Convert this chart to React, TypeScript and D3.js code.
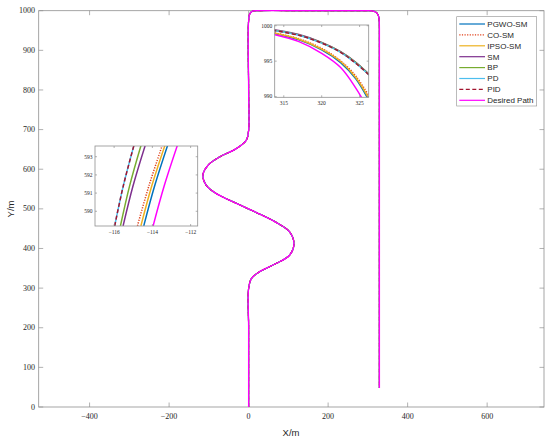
import * as d3 from 'd3';

// main trajectory (desired path, all controllers overlap at this scale)
const pathX = [0, 0, 0, 7, 27, 69, 103, 114, 103, 69, 19, -31, -82, -107, -115, -102, -73, -31, -6, 0, 0, 0, 3, 10, 22, 160, 300, 310, 317, 320, 322.3, 324.5, 325.5, 327.5, 328.7, 329, 329, 329];
const pathY = [0, 200, 299, 324, 341, 362, 383, 413, 442, 466, 491, 514, 539, 560, 585, 610, 631, 652, 673, 698, 800, 975, 992, 999, 1000, 1000, 1000, 999.7, 997.7, 996.1, 994.2, 991.1, 989.6, 983, 972, 955, 800, 48];

const seriesNames = ['PGWO-SM', 'CO-SM', 'IPSO-SM', 'SM', 'BP', 'PD', 'PID', 'Desired Path'];
const seriesColors = ['#0072BD', '#E0401A', '#EDB120', '#7E2F8E', '#77AC30', '#4DBEEE', '#A2142F', '#FF00FF'];
const seriesDash = ['', '1.2,1.4', '', '', '', '', '4,2.5', ''];

// zoom of the left bend
const leftInsetY = [589.2, 591.4, 593.6];
const leftInsetX = [
  [-114.45, -113.88, -113.21],
  [-114.78, -114.18, -113.49],
  [-114.6, -114.03, -113.35],
  [-115.53, -115.01, -114.38],
  [-115.67, -115.19, -114.6],
  [-115.97, -115.52, -114.97],
  [-115.97, -115.52, -114.97],
  [-113.96, -113.38, -112.7],
];

// zoom of the top right corner
const topInsetX = [313.5, 317, 320, 322.5, 324.5, 326.5];
const topInsetY = [
  [998.95, 998.0, 996.6, 994.8, 992.5, 988.9],
  [999.05, 998.15, 996.8, 995.05, 992.9, 989.6],
  [999.0, 998.1, 996.7, 994.95, 992.7, 989.2],
  [999.45, 998.75, 997.65, 996.35, 994.85, 992.9],
  [999.4, 998.7, 997.6, 996.3, 994.8, 992.85],
  [999.35, 998.65, 997.55, 996.25, 994.7, 992.8],
  [999.35, 998.65, 997.55, 996.25, 994.7, 992.8],
  [998.8, 997.75, 996.1, 994.1, 991.2, 987.5],
];

const xTicks = [-400, -200, 0, 200, 400, 600];
const yTicks = [0, 100, 200, 300, 400, 500, 600, 700, 800, 900, 1000];
const leftInsetXTicks = [-116, -114, -112];
const leftInsetYTicks = [590, 591, 592, 593];
const topInsetXTicks = [315, 320, 325];
const topInsetYTicks = [990, 995, 1000];

const W = 550;
const H = 438;
const axisColor = '#8f8f8f';
const textColor = '#262626';
const serif = '"Liberation Serif", "DejaVu Serif", serif';
const sans = '"Liberation Sans", Arial, sans-serif';

type BoxProps = {
  x: d3.ScaleLinear<number, number>;
  y: d3.ScaleLinear<number, number>;
  xt: number[];
  yt: number[];
  tick: number;
  fs: number;
};

// box with inward ticks on all four sides plus labels left/bottom
const AxesBox = ({ x, y, xt, yt, tick, fs }: BoxProps) => {
  const [x0, x1] = x.range();
  const [y0, y1] = y.range();
  return (
    <g>
      <rect x={x0} y={y1} width={x1 - x0} height={y0 - y1} fill="none" stroke={axisColor} strokeWidth={0.8} />
      {xt.map((t) => (
        <g key={'x' + t}>
          <line x1={x(t)} x2={x(t)} y1={y0} y2={y0 - tick} stroke={axisColor} strokeWidth={0.7} />
          <line x1={x(t)} x2={x(t)} y1={y1} y2={y1 + tick} stroke={axisColor} strokeWidth={0.7} />
          <text x={x(t)} y={y0 + fs * 1.45} textAnchor="middle" fontFamily={serif} fontSize={fs} fill={textColor}>
            {t < 0 ? '\u2212' + Math.abs(t) : t}
          </text>
        </g>
      ))}
      {yt.map((t) => (
        <g key={'y' + t}>
          <line x1={x0} x2={x0 + tick} y1={y(t)} y2={y(t)} stroke={axisColor} strokeWidth={0.7} />
          <line x1={x1} x2={x1 - tick} y1={y(t)} y2={y(t)} stroke={axisColor} strokeWidth={0.7} />
          <text x={x0 - fs * 0.45} y={y(t)} dy="0.33em" textAnchor="end" fontFamily={serif} fontSize={fs} fill={textColor}>
            {t}
          </text>
        </g>
      ))}
    </g>
  );
};

export default function App() {
  const x = d3.scaleLinear().domain([-528, 743]).range([38.7, 544]);
  const y = d3.scaleLinear().domain([0, 1000]).range([407, 10.7]);

  const mainLine = d3
    .line<number>()
    .x((i) => x(pathX[i]))
    .y((i) => y(pathY[i]))
    .curve(d3.curveCatmullRom.alpha(0.5));
  const idx = pathX.map((_, i) => i);

  const lx = d3.scaleLinear().domain([-117, -111.63]).range([95, 197.7]);
  const ly = d3.scaleLinear().domain([589.19, 593.59]).range([226, 146]);
  const leftLine = (xs: number[]) =>
    d3
      .line<number>()
      .x((v) => lx(v))
      .y((_, i) => ly(leftInsetY[i]))
      .curve(d3.curveCatmullRom)(xs);

  const tx = d3.scaleLinear().domain([313.8, 326.2]).range([274.7, 368.7]);
  const ty = d3.scaleLinear().domain([989.9, 1000.1]).range([97.3, 25]);
  const topLine = (ys: number[]) =>
    d3
      .line<number>()
      .x((_, i) => tx(topInsetX[i]))
      .y((v) => ty(v))
      .curve(d3.curveCatmullRom)(ys);

  const legX = 456.7;
  const legY = 16.7;
  const rowH = 10.9;

  return (
    <div>
      <style>{'body{margin:0}'}</style>
      <svg width={W} height={H} style={{ display: 'block', background: '#fff' }}>
        <defs>
          <clipPath id="clipL">
            <rect x={95} y={146} width={102.7} height={80} />
          </clipPath>
          <clipPath id="clipT">
            <rect x={274.7} y={25} width={94} height={72.3} />
          </clipPath>
        </defs>

        <AxesBox x={x} y={y} xt={xTicks} yt={yTicks} tick={4.5} fs={8} />

        {seriesNames.map((n, s) => (
          <path
            key={n}
            d={mainLine(idx) || ''}
            fill="none"
            stroke={seriesColors[s]}
            strokeWidth={s === 7 ? 1.3 : 1.1}
            strokeDasharray={seriesDash[s] || undefined}
          />
        ))}

        <text x={291} y={435.5} textAnchor="middle" fontFamily={sans} fontSize={9.5} fill={textColor}>
          X/m
        </text>
        <text transform="translate(13.5,209) rotate(-90)" textAnchor="middle" fontFamily={sans} fontSize={9.5} fill={textColor}>
          Y/m
        </text>

        {/* left inset */}
        <rect x={95} y={146} width={102.7} height={80} fill="#fff" />
        <g clipPath="url(#clipL)">
          {leftInsetX.map((xs, s) => (
            <path
              key={s}
              d={leftLine(xs) || ''}
              fill="none"
              stroke={seriesColors[s]}
              strokeWidth={1.5}
              strokeDasharray={seriesDash[s] || undefined}
            />
          ))}
        </g>
        <AxesBox x={lx} y={ly} xt={leftInsetXTicks} yt={leftInsetYTicks} tick={2} fs={5.5} />

        {/* top inset */}
        <rect x={274.7} y={25} width={94} height={72.3} fill="#fff" />
        <g clipPath="url(#clipT)">
          {topInsetY.map((ys, s) => (
            <path
              key={s}
              d={topLine(ys) || ''}
              fill="none"
              stroke={seriesColors[s]}
              strokeWidth={1.5}
              strokeDasharray={seriesDash[s] || undefined}
            />
          ))}
        </g>
        <AxesBox x={tx} y={ty} xt={topInsetXTicks} yt={topInsetYTicks} tick={2} fs={5.5} />

        {/* legend */}
        <rect x={legX} y={legY} width={80} height={89.3} fill="#fff" stroke={axisColor} strokeWidth={0.6} />
        {seriesNames.map((n, s) => (
          <g key={n} transform={`translate(${legX},${legY + 7.3 + s * rowH})`}>
            <line
              x1={2.6}
              x2={28.3}
              y1={0}
              y2={0}
              stroke={seriesColors[s]}
              strokeWidth={1.2}
              strokeDasharray={seriesDash[s] || undefined}
            />
            <text x={30.6} y={0} dy="0.35em" fontFamily={sans} fontSize={8} fill={textColor}>
              {n}
            </text>
          </g>
        ))}
      </svg>
    </div>
  );
}
